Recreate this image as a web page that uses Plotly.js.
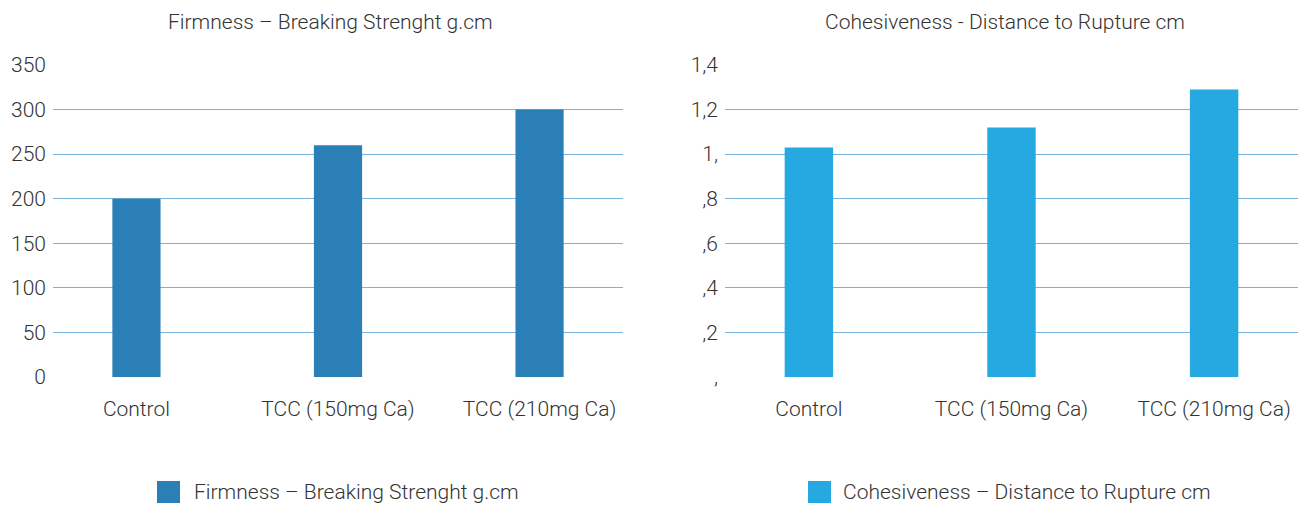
<!DOCTYPE html>
<html>
<head>
<meta charset="utf-8">
<script src="https://cdn.plot.ly/plotly-3.0.1.min.js"></script>
<style>
html,body{margin:0;padding:0;background:#fff;}
#chart{width:1298px;height:506px;}
</style>
</head>
<body>
<div id="chart"></div>
<script>
const categories = ["Control", "TCC (150mg Ca)", "TCC (210mg Ca)"];
const firmnessValues = [200, 260, 300];
const cohesivenessValues = [1.03, 1.12, 1.29];
const firmnessTitle = "Firmness – Breaking Strenght g.cm";
const cohesivenessTitle = "Cohesiveness - Distance to Rupture cm";
const firmnessLegend = "Firmness – Breaking Strenght g.cm";
const cohesivenessLegend = "Cohesiveness – Distance to Rupture cm";
const firmnessTicks = [0, 50, 100, 150, 200, 250, 300, 350];
const cohesivenessTickVals = [0, 0.2, 0.4, 0.6, 0.8, 1.0, 1.2, 1.4];
const cohesivenessTickText = [",", ",2", ",4", ",6", ",8", "1,", "1,2", "1,4"];
const colors = ["#2a7fb6", "#25a9e0"];

const W = 1298, H = 506;
const FONT = "Roboto, 'Liberation Sans', Arial, sans-serif";
const TXT = "#333333";
const GRID = "#7db2da";

const px = v => v / W;
const py = v => 1 - v / H;

const traces = [
  {type: "bar", x: categories, y: firmnessValues, name: firmnessLegend,
   marker: {color: colors[0]}, xaxis: "x", yaxis: "y", showlegend: false, hoverinfo: "x+y"},
  {type: "bar", x: categories, y: cohesivenessValues, name: cohesivenessLegend,
   marker: {color: colors[1]}, xaxis: "x2", yaxis: "y2", showlegend: false, hoverinfo: "x+y"}
];

const xCommon = {
  type: "category", range: [-0.414, 2.414], showgrid: false, zeroline: false,
  showline: false, ticks: "", ticklabelstandoff: 17,
  tickfont: {family: FONT, size: 21, color: TXT, weight: 300}, fixedrange: true
};
const yCommon = {
  showgrid: true, gridcolor: GRID, gridwidth: 1, zeroline: false, showline: false,
  ticks: "", ticklabelstandoff: 6, tickfont: {family: FONT, size: 21, color: TXT, weight: 300},
  fixedrange: true
};

const layout = {
  width: W, height: H,
  margin: {l: 0, r: 0, t: 0, b: 0},
  paper_bgcolor: "#fff", plot_bgcolor: "#fff",
  bargap: 0.761,
  xaxis: Object.assign({}, xCommon, {domain: [px(53), px(623)], anchor: "y"}),
  xaxis2: Object.assign({}, xCommon, {domain: [px(725), 1], anchor: "y2"}),
  yaxis: Object.assign({}, yCommon, {domain: [py(377), py(65)], range: [0, 350],
    tickvals: firmnessTicks, anchor: "x"}),
  yaxis2: Object.assign({}, yCommon, {domain: [py(377), py(65)], range: [0, 1.4],
    tickvals: cohesivenessTickVals, ticktext: cohesivenessTickText, anchor: "x2"}),
  annotations: [
    {xref: "paper", yref: "paper", x: px(330), y: py(22), text: firmnessTitle,
     showarrow: false, xanchor: "center", yanchor: "middle",
     font: {family: FONT, size: 21, color: TXT, weight: 300}},
    {xref: "paper", yref: "paper", x: px(1005), y: py(22), text: cohesivenessTitle,
     showarrow: false, xanchor: "center", yanchor: "middle",
     font: {family: FONT, size: 21, color: TXT, weight: 300}},
    {xref: "paper", yref: "paper", x: px(192), y: py(492), text: firmnessLegend,
     showarrow: false, xanchor: "left", yanchor: "middle",
     font: {family: FONT, size: 21, color: TXT, weight: 300}},
    {xref: "paper", yref: "paper", x: px(841), y: py(492), text: cohesivenessLegend,
     showarrow: false, xanchor: "left", yanchor: "middle",
     font: {family: FONT, size: 21, color: TXT, weight: 300}}
  ],
  shapes: [
    {type: "rect", xref: "paper", yref: "paper", x0: px(157), x1: px(180), y0: py(503), y1: py(481),
     fillcolor: colors[0], line: {width: 0}},
    {type: "rect", xref: "paper", yref: "paper", x0: px(808), x1: px(831), y0: py(503), y1: py(481),
     fillcolor: colors[1], line: {width: 0}}
  ]
};

Plotly.newPlot("chart", traces, layout, {displayModeBar: false, staticPlot: true});
</script>
</body>
</html>
